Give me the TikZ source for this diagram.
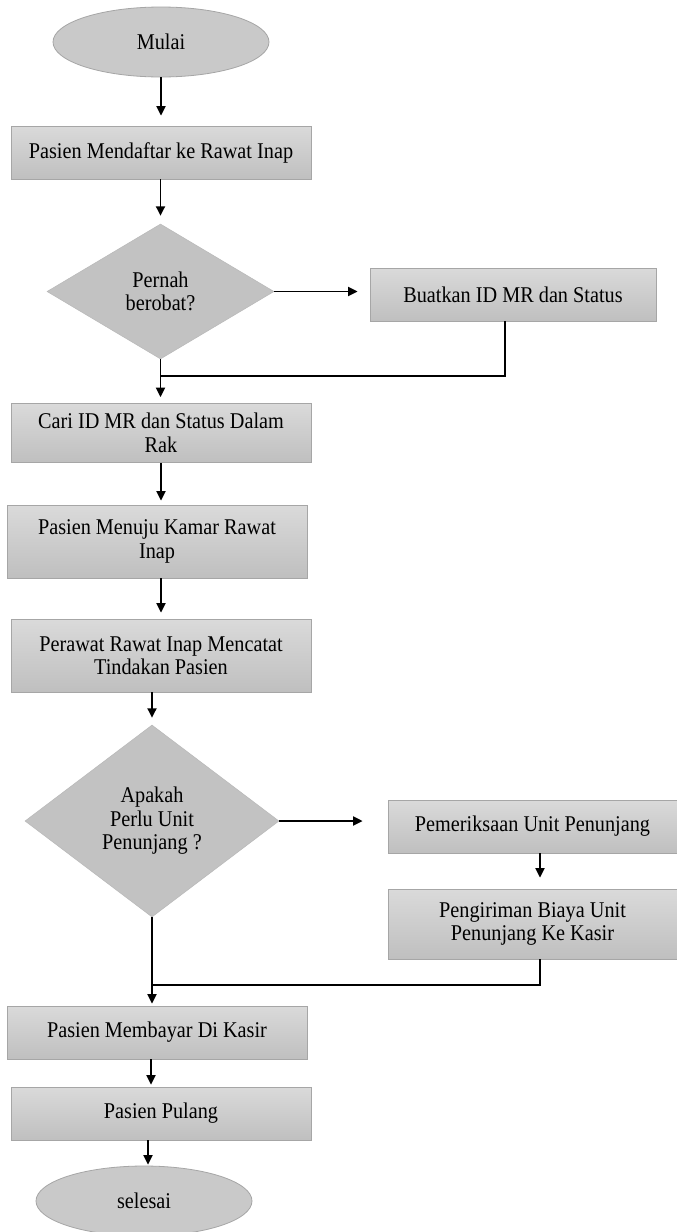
\documentclass[tikz,border=0pt]{standalone}
\usepackage{fontspec}
\setmainfont{Liberation Serif}[FakeStretch=0.9]
\usetikzlibrary{shapes.geometric,arrows.meta}
\definecolor{boxtop}{HTML}{DADADA}
\definecolor{boxbot}{HTML}{BFBFBF}
\definecolor{boxedge}{HTML}{A6A6A6}
\definecolor{ellfill}{HTML}{C9C9C9}
\definecolor{diafill}{HTML}{C2C2C2}
\begin{document}
\begin{tikzpicture}[x=1pt,y=-1pt,
  every node/.style={font=\fontsize{22.5}{23.5}\selectfont, text=black, align=center, inner sep=0pt},
  procbox/.style={rectangle, draw=boxedge, line width=0.8pt, top color=boxtop, bottom color=boxbot, minimum width=300pt},
  termin/.style={ellipse, draw=boxedge, line width=0.8pt, fill=ellfill, minimum width=216pt, minimum height=70pt},
  decis/.style={diamond, fill=diafill, draw=diafill!95!black, line width=0.5pt},
  arr/.style={line width=1.8pt, -{Triangle[length=9.5pt,width=9pt]}},
  ln/.style={line width=1.8pt}
]
\useasboundingbox (0,0) rectangle (677,1232);
\fill[white] (0,0) rectangle (677,1232);

% nodes
\node[termin] (mulai) at (161,42) {Mulai};
\node[procbox, minimum height=53pt] (daftar) at (161,152.5) {Pasien Mendaftar ke Rawat Inap};
\node[decis, minimum width=227pt, minimum height=135pt, aspect=1.68] (d1) at (160.5,291.5) {Pernah\\berobat?};
\node[procbox, minimum width=286pt, minimum height=53pt] (buat) at (513,294.5) {Buatkan ID MR dan Status};
\node[procbox, minimum height=59pt] (cari) at (161,433) {Cari ID MR dan Status Dalam\\Rak};
\node[procbox, minimum height=73pt] (menuju) at (157,541.5) {Pasien Menuju Kamar Rawat\\Inap};
\node[procbox, minimum height=73pt] (catat) at (161,655.5) {Perawat Rawat Inap Mencatat\\Tindakan Pasien};
\node[decis, minimum width=254pt, minimum height=192pt, aspect=1.32] (d2) at (152,821) {Apakah\\Perlu Unit\\Penunjang ?};
\node[procbox, minimum width=289pt, minimum height=53pt] (periksa) at (532.5,826.5) {Pemeriksaan Unit Penunjang};
\node[procbox, minimum width=289pt, minimum height=70pt] (kirim) at (532.5,924) {Pengiriman Biaya Unit\\Penunjang Ke Kasir};
\node[procbox, minimum height=53pt] (bayar) at (157,1032.5) {Pasien Membayar Di Kasir};
\node[procbox, minimum height=53pt] (pulang) at (161,1113.5) {Pasien Pulang};
\node[termin] (selesai) at (144,1201) {selesai};

\coordinate (j1) at (160.5,376);
\coordinate (j2) at (152,985);

% connectors
\draw[arr, shorten >=10pt] (mulai.south) -- (mulai.south |- daftar.north);
\draw[arr, shorten >=8pt] (d1.north |- daftar.south) -- (d1.north);
\draw[arr, shorten >=12pt] (d1.east) -- (buat.west |- d1.east);
\draw[ln] ([xshift=-8pt]buat.south) |- (j1);
\draw[arr, shorten >=6pt] (d1.south) -- (d1.south |- cari.north);
\draw[arr, shorten >=4pt] (cari.south) -- (cari.south |- menuju.north);
\draw[arr, shorten >=6pt] (menuju.south -| cari.south) -- (cari.south |- catat.north);
\draw[arr, shorten >=7pt] (d2.north |- catat.south) -- (d2.north);
\draw[arr, shorten >=25pt] (d2.east) -- (periksa.west |- d2.east);
\draw[arr, shorten >=11pt] ([xshift=7.5pt]periksa.south) -- ([xshift=7.5pt]kirim.north);
\draw[ln] ([xshift=7.5pt]kirim.south) |- (j2);
\draw[arr, shorten >=2pt] (d2.south) -- (d2.south |- bayar.north);
\draw[arr, shorten >=2pt] ([xshift=-6pt]bayar.south) -- ([xshift=-10pt]pulang.north);
\draw[arr, shorten >=1pt] ([xshift=-13pt]pulang.south) -- ([xshift=-13pt]pulang.south |- selesai.north);
\end{tikzpicture}
\end{document}
